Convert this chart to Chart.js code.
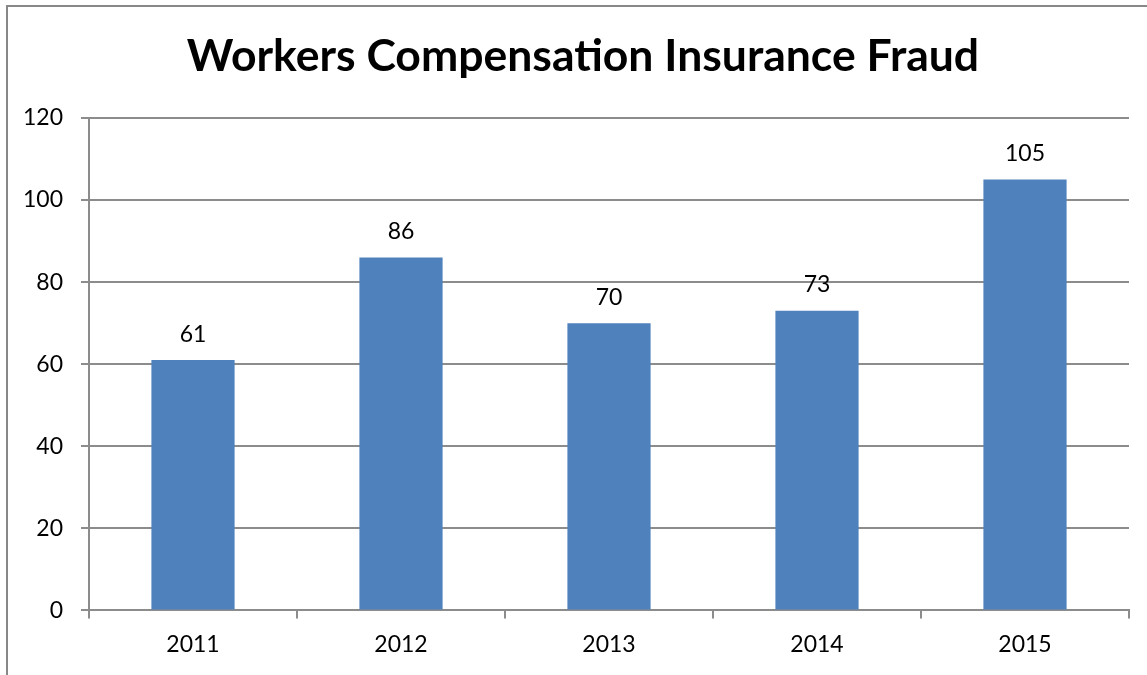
<!DOCTYPE html>
<html>
<head>
<meta charset="utf-8">
<script src="https://cdn.jsdelivr.net/npm/chart.js@4"></script>
<style>
  html, body { margin: 0; padding: 0; background: #fff; }
  #wrap { width: 1147px; height: 675px; position: relative; }
</style>
</head>
<body>
<div id="wrap"><canvas id="fraudChart"></canvas></div>
<script>
const years = ['2011', '2012', '2013', '2014', '2015'];
const fraudCases = [61, 86, 70, 73, 105];
const yTicks = [0, 20, 40, 60, 80, 100, 120];
const chartTitle = 'Workers Compensation Insurance Fraud';

const fontFamily = 'Lato, "Open Sans", sans-serif';
const gridGray = '#8c8c8c';

// outer frame and title (title sits a bit right of the canvas centre, like the original)
const framePlugin = {
  id: 'frame',
  afterDraw(chart) {
    const ctx = chart.ctx;
    ctx.save();
    ctx.strokeStyle = '#888';
    ctx.lineWidth = 2;
    ctx.strokeRect(7, 6, 1200, 700);
    ctx.font = 'bold 44.5px ' + fontFamily;
    ctx.fillStyle = '#000';
    ctx.textAlign = 'center';
    ctx.textBaseline = 'middle';
    ctx.fillText(chartTitle, 583, 57);
    ctx.restore();
  }
};

// value labels above the bars
const valueLabels = {
  id: 'valueLabels',
  afterDatasetsDraw(chart) {
    const ctx = chart.ctx;
    const meta = chart.getDatasetMeta(0);
    ctx.save();
    ctx.font = '23px ' + fontFamily;
    ctx.fillStyle = '#000';
    ctx.textAlign = 'center';
    ctx.textBaseline = 'middle';
    meta.data.forEach((bar, i) => {
      ctx.fillText(fraudCases[i], bar.x, bar.y - 26);
    });
    ctx.restore();
  }
};

const ctx = document.getElementById('fraudChart').getContext('2d');
new Chart(ctx, {
  type: 'bar',
  data: {
    labels: years,
    datasets: [{
      data: fraudCases,
      backgroundColor: '#4f81bd',
      borderWidth: 0,
      categoryPercentage: 1,
      barPercentage: 0.4
    }]
  },
  options: {
    responsive: true,
    maintainAspectRatio: false,
    animation: false,
    layout: { padding: { left: 0, right: 18, top: 118, bottom: 5 } },
    plugins: {
      legend: { display: false },
      tooltip: { enabled: false },
      title: { display: false }
    },
    scales: {
      y: {
        min: 0,
        max: 120,
        afterBuildTicks(scale) {
          scale.ticks = yTicks.map(v => ({ value: v }));
        },
        afterFit(scale) { scale.width = 89; },
        border: { color: gridGray, width: 2 },
        grid: { color: gridGray, lineWidth: 2, tickLength: 8 },
        ticks: {
          color: '#000',
          padding: 18,
          font: { family: fontFamily, size: 23 }
        }
      },
      x: {
        border: { color: gridGray, width: 2 },
        grid: { color: gridGray, lineWidth: 2, drawOnChartArea: false, tickLength: 8, offset: true },
        ticks: {
          color: '#000',
          padding: 12,
          font: { family: fontFamily, size: 23 }
        }
      }
    }
  },
  plugins: [framePlugin, valueLabels]
});
</script>
</body>
</html>
